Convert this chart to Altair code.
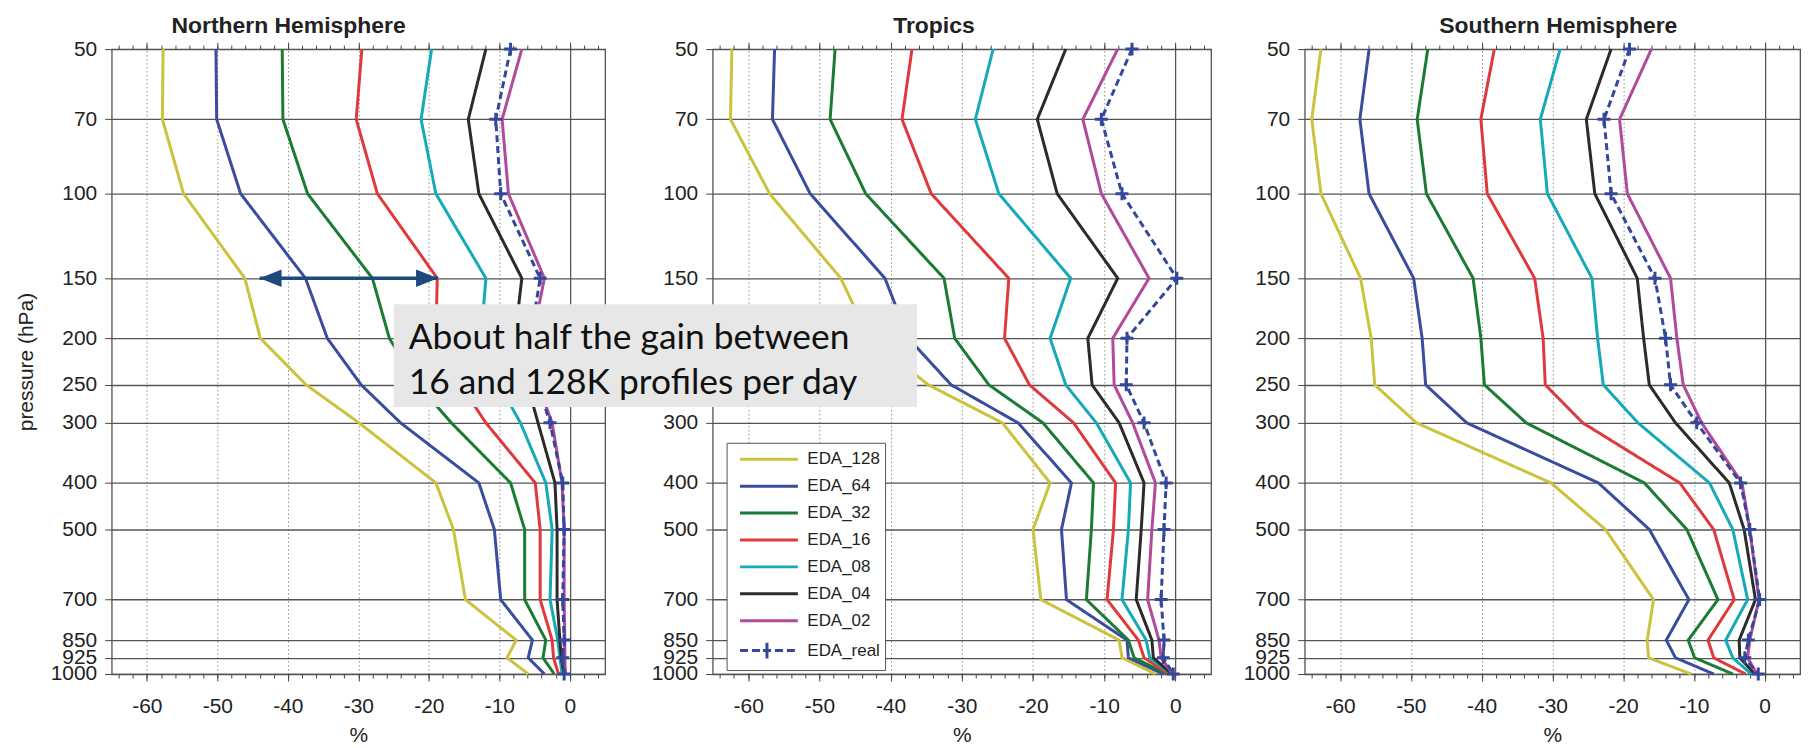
import altair as alt
import pandas as pd

# ---------------- data ----------------
levels = [50, 70, 100, 150, 200, 250, 300, 400, 500, 700, 850, 925, 1000]
series_names = ["EDA_128", "EDA_64", "EDA_32", "EDA_16", "EDA_08", "EDA_04", "EDA_02", "EDA_real"]
series_colors = ["#cbc23d", "#3a4c9e", "#1b7b34", "#e0393b", "#16a9b8", "#2b2b2b", "#b24a9c", "#34479a"]
panel_keys = ["NH", "TR", "SH"]
panel_titles = ["Northern Hemisphere", "Tropics", "Southern Hemisphere"]
x_ticks = [-60, -50, -40, -30, -20, -10, 0]
x_minor = [-64, -62, -60, -58, -56, -54, -52, -50, -48, -46, -44, -42, -40, -38, -36, -34,
           -32, -30, -28, -26, -24, -22, -20, -18, -16, -14, -12, -10, -8, -6, -4, -2, 0, 2, 4]
note_lines = ["About half the gain between", "16 and 128K profiles per day"]
arrow_span = [-44.0, -18.7]
arrow_level = [150]

nh_128 = [-57.7, -57.8, -54.8, -46.1, -43.9, -37.4, -29.9, -19.0, -16.5, -14.8, -7.6, -8.9, -5.9]
nh_64 = [-50.2, -50.1, -46.7, -37.5, -34.4, -29.6, -24.0, -12.9, -10.7, -9.8, -5.3, -5.9, -3.6]
nh_32 = [-40.8, -40.7, -37.2, -28.0, -25.6, -21.5, -16.8, -8.4, -6.4, -6.4, -3.4, -3.8, -2.2]
nh_16 = [-29.5, -30.3, -27.3, -18.8, -19.0, -15.5, -11.9, -4.9, -4.2, -4.2, -2.5, -2.3, -1.6]
nh_08 = [-19.6, -21.1, -19.0, -11.9, -12.6, -10.0, -7.0, -3.4, -2.5, -2.8, -1.7, -1.4, -1.1]
nh_04 = [-11.9, -14.4, -12.9, -6.8, -7.8, -6.0, -4.5, -2.1, -1.8, -1.8, -1.4, -1.2, -0.8]
nh_02 = [-6.8, -9.6, -8.7, -3.6, -5.3, -4.5, -2.5, -1.1, -0.8, -0.8, -0.7, -0.7, -0.6]
nh_real = [-8.4, -10.5, -9.8, -4.2, -5.6, -4.5, -2.8, -1.0, -0.8, -1.0, -0.8, -1.0, -0.8]

tr_128 = [-62.3, -62.5, -57.0, -47.0, -43.0, -34.7, -24.3, -17.6, -20.0, -18.9, -7.9, -7.5, -2.8]
tr_64 = [-56.3, -56.6, -51.3, -40.8, -37.5, -31.5, -22.1, -14.6, -16.0, -15.3, -6.8, -6.6, -1.7]
tr_32 = [-47.8, -48.5, -43.5, -32.5, -31.0, -26.2, -18.6, -11.5, -11.8, -12.5, -6.6, -5.8, -1.2]
tr_16 = [-37.0, -38.4, -34.3, -23.4, -24.0, -20.5, -14.3, -8.4, -8.7, -9.6, -5.2, -4.4, -0.9]
tr_08 = [-25.6, -28.1, -24.8, -14.7, -17.6, -15.4, -11.1, -6.3, -6.6, -7.5, -4.1, -3.6, -0.6]
tr_04 = [-15.4, -19.4, -16.6, -8.1, -12.3, -11.7, -7.9, -4.4, -4.8, -5.5, -3.3, -3.1, -0.5]
tr_02 = [-8.1, -13.0, -10.4, -3.7, -8.8, -8.6, -6.0, -2.8, -3.3, -3.9, -2.3, -2.0, -0.4]
tr_real = [-6.1, -10.4, -7.5, 0.2, -6.8, -6.9, -4.4, -1.3, -1.6, -2.0, -1.6, -1.7, -0.3]

sh_128 = [-62.7, -64.0, -62.7, -57.1, -55.6, -55.1, -49.2, -30.2, -22.5, -15.7, -16.6, -16.4, -10.4]
sh_64 = [-55.9, -57.2, -55.9, -49.6, -48.4, -47.9, -42.1, -23.5, -16.3, -10.7, -13.9, -12.6, -7.2]
sh_32 = [-47.6, -49.1, -47.8, -41.2, -40.1, -39.6, -33.7, -17.0, -11.0, -6.6, -10.8, -9.9, -4.5]
sh_16 = [-38.2, -40.1, -39.2, -32.5, -31.3, -31.0, -25.7, -12.0, -7.2, -4.3, -8.0, -7.2, -2.7]
sh_08 = [-28.9, -31.7, -30.7, -24.4, -23.6, -22.8, -17.9, -7.8, -4.5, -2.4, -5.5, -4.5, -1.9]
sh_04 = [-21.7, -25.2, -24.0, -18.0, -17.1, -16.3, -12.6, -5.0, -2.9, -1.3, -3.6, -3.5, -1.4]
sh_02 = [-16.0, -20.5, -19.4, -13.3, -12.4, -11.5, -8.9, -3.2, -2.1, -0.8, -2.1, -2.4, -1.1]
sh_real = [-19.1, -22.7, -21.7, -15.5, -14.0, -13.3, -9.6, -3.4, -2.1, -0.7, -2.3, -2.8, -0.9]

panel_data = {
    "NH": [nh_128, nh_64, nh_32, nh_16, nh_08, nh_04, nh_02, nh_real],
    "TR": [tr_128, tr_64, tr_32, tr_16, tr_08, tr_04, tr_02, tr_real],
    "SH": [sh_128, sh_64, sh_32, sh_16, sh_08, sh_04, sh_02, sh_real],
}

rows = []
for key in panel_keys:
    for name, vals in zip(series_names, panel_data[key]):
        for p, v in zip(levels, vals):
            rows.append({"region": key, "series": name, "pressure": p, "value": v})
df = pd.DataFrame(rows)

note_df = pd.DataFrame({"n": [0]})
arrow_df = pd.DataFrame({"x_from": [arrow_span[0]], "x_to": [arrow_span[1]], "p": arrow_level})

# ---------------- styling ----------------
FONT = "Liberation Sans"
REAL_COLOR = series_colors[-1]
ARROW_COLOR = "#1f497d"
GRID_DARK = "#555555"

xs = alt.Scale(domain=[-65, 5], nice=False, zero=False)
ys = alt.Scale(type="log", domain=[50, 1000], reverse=True, nice=False)
color_scale = alt.Scale(domain=series_names, range=series_colors)
dash_scale = alt.Scale(domain=series_names, range=[[1, 0]] * 7 + [[7, 4]])

solid_path = "M-0.3,0H5.5"
real_path = "M-0.3,0H0.5M0.9,0H1.7M2.0,0H2.8M2.4,-0.8V0.8M3.2,0H4.0M4.4,0H5.2"
symbol_expr = "datum.value == 'EDA_real' ? '" + real_path + "' : '" + solid_path + "'"

PANEL_W = [495, 500, 497]
PANEL_H = 627
TITLE_DX = [-70, -28, 6]


def make_panel(idx):
    key = panel_keys[idx]
    base = alt.Chart(df).transform_filter(alt.datum.region == key)

    if key == "TR":
        legend = alt.Legend(
            orient="none", legendX=14, legendY=395, title=None,
            symbolType=alt.ExprRef(expr=symbol_expr), symbolSize=400, symbolStrokeWidth=3,
            labelFont=FONT, labelFontSize=17, labelColor="#222", labelOffset=53,
            rowPadding=7, padding=5, strokeColor="#555555", fillColor="white",
            symbolOpacity=1,
        )
    else:
        legend = None

    x_axis = alt.Axis(
        orient="bottom", values=x_ticks, labelExpr="'' + datum.value",
        tickSize=7, labelPadding=15, titlePadding=8, domain=False,
        labelOverlap=False, labelFlush=False, grid=True,
        gridColor=alt.condition("datum.value == 0", alt.value(GRID_DARK), alt.value("#8c8c8c")),
        gridDash=alt.condition("datum.value == 0", alt.value([1, 0]), alt.value([1.5, 2.5])),
        gridWidth=alt.condition("datum.value == 0", alt.value(1.3), alt.value(1)),
    )
    y_axis = alt.Axis(
        orient="left", values=levels, format="d", tickSize=7, labelPadding=8,
        labelOverlap=False, grid=True, gridColor=GRID_DARK, gridWidth=1.3,
        domain=False, titlePadding=14,
    )

    lines = base.mark_line(strokeWidth=3).encode(
        x=alt.X("value:Q", scale=xs, axis=x_axis, title="%"),
        y=alt.Y("pressure:Q", scale=ys, axis=y_axis,
                title=("pressure (hPa)" if key == "NH" else None)),
        color=alt.Color("series:N", scale=color_scale, legend=legend),
        strokeDash=alt.StrokeDash("series:N", scale=dash_scale, legend=None),
        order=alt.Order("pressure:Q"),
    )

    pts = base.transform_filter(alt.datum.series == "EDA_real").mark_point(
        shape="M-1,0H1M0,-1V1", size=169, strokeWidth=3, filled=False,
        color=REAL_COLOR, opacity=1,
    ).encode(
        x=alt.X("value:Q", scale=xs, axis=None),
        y=alt.Y("pressure:Q", scale=ys, axis=None),
    )

    def tick_layer(orient, values, size):
        return base.mark_point(opacity=0, size=1).encode(
            x=alt.X("value:Q", scale=xs, title=None,
                    axis=alt.Axis(orient=orient, values=values, tickSize=size,
                                  labels=False, domain=False, grid=False, ticks=True)),
            y=alt.Y("pressure:Q", scale=ys, axis=None),
        )

    layers = [lines, pts,
              tick_layer("top", x_minor, 4),
              tick_layer("top", x_ticks, 7),
              tick_layer("bottom", x_minor, 4)]

    if key == "NH":
        shaft = alt.Chart(arrow_df).mark_rule(color=ARROW_COLOR, strokeWidth=3.5).encode(
            x=alt.X("x_from:Q", scale=xs, axis=None), x2="x_to:Q",
            y=alt.Y("p:Q", scale=ys, axis=None))
        head_l = alt.Chart(arrow_df).mark_point(
            shape="M0,0L2,-0.8L2,0.8Z", size=484, filled=True, color=ARROW_COLOR, opacity=1
        ).encode(x=alt.X("x_from:Q", scale=xs, axis=None), y=alt.Y("p:Q", scale=ys, axis=None))
        head_r = alt.Chart(arrow_df).mark_point(
            shape="M0,0L-2,-0.8L-2,0.8Z", size=484, filled=True, color=ARROW_COLOR, opacity=1
        ).encode(x=alt.X("x_to:Q", scale=xs, axis=None), y=alt.Y("p:Q", scale=ys, axis=None))
        layers += [shaft, head_l, head_r]

    if key == "TR":
        box = alt.Chart(note_df).mark_rect(color="#e7e7e7").encode(
            x=alt.value(-320), x2=alt.value(205), y=alt.value(256), y2=alt.value(359))
        txt = alt.Chart(note_df).mark_text(
            align="left", baseline="alphabetic", font="Lato", fontSize=35.5,
            lineHeight=45, color="#111111",
        ).encode(x=alt.value(-305), y=alt.value(301), text=alt.value(note_lines))
        layers += [box, txt]

    return alt.layer(*layers).resolve_axis(x="independent", y="independent").properties(
        width=PANEL_W[idx], height=PANEL_H,
        title=alt.TitleParams(panel_titles[idx], font=FONT, fontSize=23, fontWeight="bold",
                              anchor="middle", frame="group", baseline="alphabetic",
                              offset=-19, dx=TITLE_DX[idx], color="#222222"),
    )


right_pair = alt.hconcat(
    make_panel(1), make_panel(2), spacing=94, bounds="flush"
).resolve_legend(color="independent")

chart = alt.hconcat(
    make_panel(0), right_pair, spacing=108, bounds="flush"
).resolve_legend(color="independent").properties(
    padding={"left": 6, "top": 4, "right": 5, "bottom": 5}
).configure_view(
    stroke="#444444", strokeWidth=1.2
).configure_axis(
    labelFont=FONT, labelFontSize=21, labelColor="#222222",
    titleFont=FONT, titleFontSize=21, titleFontWeight="normal", titleColor="#222222",
    tickColor="#444444", tickWidth=1,
)

chart.save("out.html", embed_options={"renderer": "svg", "actions": False})
